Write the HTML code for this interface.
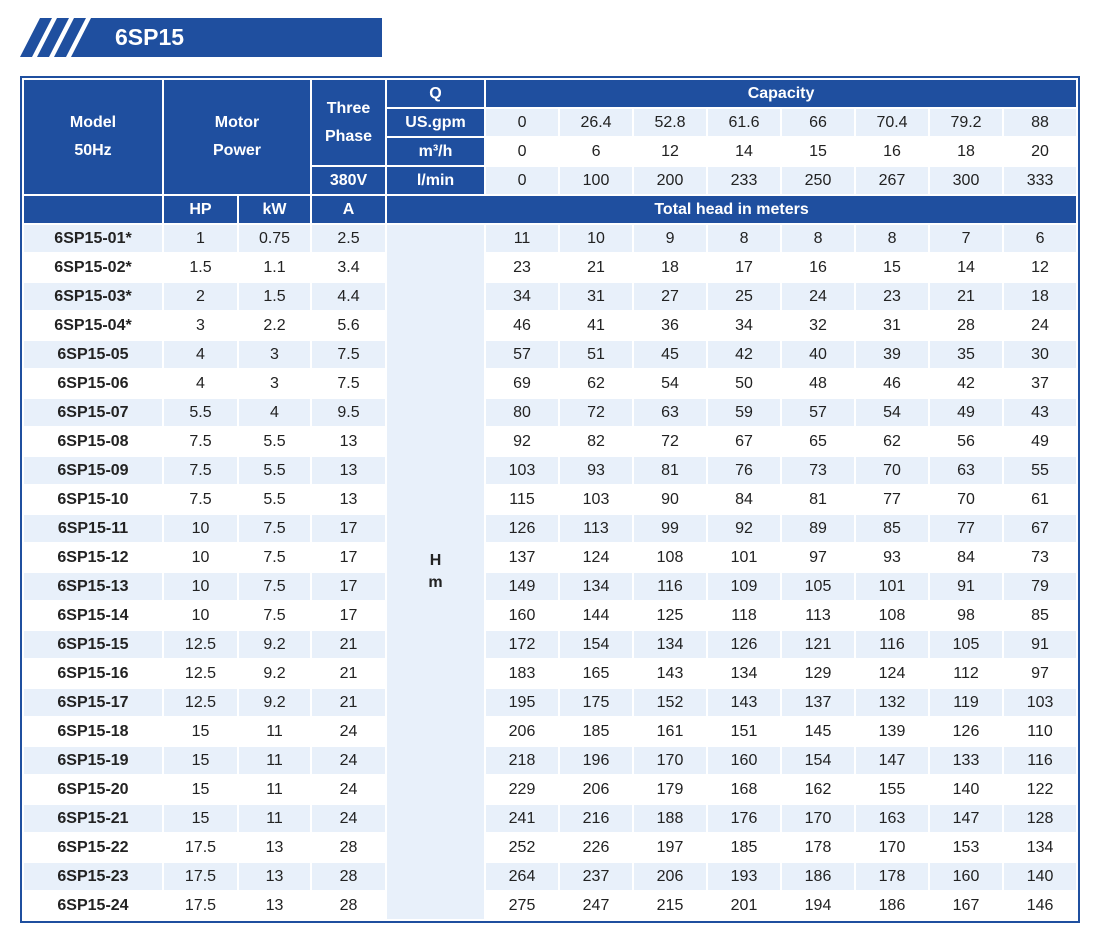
<!DOCTYPE html>
<html><head><meta charset="utf-8"><style>
body{margin:0;width:1100px;height:936px;background:#fff;position:relative;font-family:"Liberation Sans",sans-serif;}
.ban{position:absolute;left:0;top:0}
.bt{position:absolute;left:115px;top:21px;color:#fff;font-weight:bold;font-size:23px;line-height:33px}
table{position:absolute;left:20px;top:76px;width:1060px;border:2px solid #1f4f9f;border-collapse:separate;border-spacing:2px;table-layout:fixed;box-sizing:border-box;}
td{padding:0;text-align:center;font-size:16px;color:#222;height:27px;line-height:27px;white-space:nowrap;overflow:hidden}
tr.a td{background:#e8f0fa}
tr.b td{background:#fff}
table tr td.h{background:#1f4f9f;color:#fff;font-weight:bold}
td.m{font-weight:bold}
table tr td.hm{background:#e8f0fa;font-weight:bold;line-height:22px;vertical-align:middle}
tr.d td{height:27px;line-height:27px}
</style></head><body>
<svg class="ban" width="400" height="70">
<polygon points="20,57 32,57 52,18 40,18" fill="#1f4f9f"/>
<polygon points="37,57 49,57 69,18 57,18" fill="#1f4f9f"/>
<polygon points="54,57 66,57 86,18 74,18" fill="#1f4f9f"/>
<polygon points="71,57 382,57 382,18 91,18" fill="#1f4f9f"/>
</svg>
<div class="bt">6SP15</div>
<table>
<colgroup><col style="width:138px"><col style="width:73px"><col style="width:71px"><col style="width:73px"><col style="width:97px"><col span="8" style="width:72px"></colgroup>
<tr><td class="h" rowspan="4" style="line-height:28px">Model<br>50Hz</td><td class="h" rowspan="4" colspan="2" style="line-height:28px">Motor<br>Power</td><td class="h" rowspan="3" style="line-height:28px">Three<br>Phase</td><td class="h">Q</td><td class="h" colspan="8">Capacity</td></tr>
<tr class="a"><td class="h">US.gpm</td><td>0</td><td>26.4</td><td>52.8</td><td>61.6</td><td>66</td><td>70.4</td><td>79.2</td><td>88</td></tr>
<tr class="b"><td class="h">m³/h</td><td>0</td><td>6</td><td>12</td><td>14</td><td>15</td><td>16</td><td>18</td><td>20</td></tr>
<tr class="a"><td class="h">380V</td><td class="h">l/min</td><td>0</td><td>100</td><td>200</td><td>233</td><td>250</td><td>267</td><td>300</td><td>333</td></tr>
<tr><td class="h"></td><td class="h">HP</td><td class="h">kW</td><td class="h">A</td><td class="h" colspan="9">Total head in meters</td></tr>
<tr class="a d"><td class="m">6SP15-01*</td><td>1</td><td>0.75</td><td>2.5</td><td class="hm" rowspan="24">H<br>m</td><td>11</td><td>10</td><td>9</td><td>8</td><td>8</td><td>8</td><td>7</td><td>6</td></tr>
<tr class="b d"><td class="m">6SP15-02*</td><td>1.5</td><td>1.1</td><td>3.4</td><td>23</td><td>21</td><td>18</td><td>17</td><td>16</td><td>15</td><td>14</td><td>12</td></tr>
<tr class="a d"><td class="m">6SP15-03*</td><td>2</td><td>1.5</td><td>4.4</td><td>34</td><td>31</td><td>27</td><td>25</td><td>24</td><td>23</td><td>21</td><td>18</td></tr>
<tr class="b d"><td class="m">6SP15-04*</td><td>3</td><td>2.2</td><td>5.6</td><td>46</td><td>41</td><td>36</td><td>34</td><td>32</td><td>31</td><td>28</td><td>24</td></tr>
<tr class="a d"><td class="m">6SP15-05</td><td>4</td><td>3</td><td>7.5</td><td>57</td><td>51</td><td>45</td><td>42</td><td>40</td><td>39</td><td>35</td><td>30</td></tr>
<tr class="b d"><td class="m">6SP15-06</td><td>4</td><td>3</td><td>7.5</td><td>69</td><td>62</td><td>54</td><td>50</td><td>48</td><td>46</td><td>42</td><td>37</td></tr>
<tr class="a d"><td class="m">6SP15-07</td><td>5.5</td><td>4</td><td>9.5</td><td>80</td><td>72</td><td>63</td><td>59</td><td>57</td><td>54</td><td>49</td><td>43</td></tr>
<tr class="b d"><td class="m">6SP15-08</td><td>7.5</td><td>5.5</td><td>13</td><td>92</td><td>82</td><td>72</td><td>67</td><td>65</td><td>62</td><td>56</td><td>49</td></tr>
<tr class="a d"><td class="m">6SP15-09</td><td>7.5</td><td>5.5</td><td>13</td><td>103</td><td>93</td><td>81</td><td>76</td><td>73</td><td>70</td><td>63</td><td>55</td></tr>
<tr class="b d"><td class="m">6SP15-10</td><td>7.5</td><td>5.5</td><td>13</td><td>115</td><td>103</td><td>90</td><td>84</td><td>81</td><td>77</td><td>70</td><td>61</td></tr>
<tr class="a d"><td class="m">6SP15-11</td><td>10</td><td>7.5</td><td>17</td><td>126</td><td>113</td><td>99</td><td>92</td><td>89</td><td>85</td><td>77</td><td>67</td></tr>
<tr class="b d"><td class="m">6SP15-12</td><td>10</td><td>7.5</td><td>17</td><td>137</td><td>124</td><td>108</td><td>101</td><td>97</td><td>93</td><td>84</td><td>73</td></tr>
<tr class="a d"><td class="m">6SP15-13</td><td>10</td><td>7.5</td><td>17</td><td>149</td><td>134</td><td>116</td><td>109</td><td>105</td><td>101</td><td>91</td><td>79</td></tr>
<tr class="b d"><td class="m">6SP15-14</td><td>10</td><td>7.5</td><td>17</td><td>160</td><td>144</td><td>125</td><td>118</td><td>113</td><td>108</td><td>98</td><td>85</td></tr>
<tr class="a d"><td class="m">6SP15-15</td><td>12.5</td><td>9.2</td><td>21</td><td>172</td><td>154</td><td>134</td><td>126</td><td>121</td><td>116</td><td>105</td><td>91</td></tr>
<tr class="b d"><td class="m">6SP15-16</td><td>12.5</td><td>9.2</td><td>21</td><td>183</td><td>165</td><td>143</td><td>134</td><td>129</td><td>124</td><td>112</td><td>97</td></tr>
<tr class="a d"><td class="m">6SP15-17</td><td>12.5</td><td>9.2</td><td>21</td><td>195</td><td>175</td><td>152</td><td>143</td><td>137</td><td>132</td><td>119</td><td>103</td></tr>
<tr class="b d"><td class="m">6SP15-18</td><td>15</td><td>11</td><td>24</td><td>206</td><td>185</td><td>161</td><td>151</td><td>145</td><td>139</td><td>126</td><td>110</td></tr>
<tr class="a d"><td class="m">6SP15-19</td><td>15</td><td>11</td><td>24</td><td>218</td><td>196</td><td>170</td><td>160</td><td>154</td><td>147</td><td>133</td><td>116</td></tr>
<tr class="b d"><td class="m">6SP15-20</td><td>15</td><td>11</td><td>24</td><td>229</td><td>206</td><td>179</td><td>168</td><td>162</td><td>155</td><td>140</td><td>122</td></tr>
<tr class="a d"><td class="m">6SP15-21</td><td>15</td><td>11</td><td>24</td><td>241</td><td>216</td><td>188</td><td>176</td><td>170</td><td>163</td><td>147</td><td>128</td></tr>
<tr class="b d"><td class="m">6SP15-22</td><td>17.5</td><td>13</td><td>28</td><td>252</td><td>226</td><td>197</td><td>185</td><td>178</td><td>170</td><td>153</td><td>134</td></tr>
<tr class="a d"><td class="m">6SP15-23</td><td>17.5</td><td>13</td><td>28</td><td>264</td><td>237</td><td>206</td><td>193</td><td>186</td><td>178</td><td>160</td><td>140</td></tr>
<tr class="b d"><td class="m">6SP15-24</td><td>17.5</td><td>13</td><td>28</td><td>275</td><td>247</td><td>215</td><td>201</td><td>194</td><td>186</td><td>167</td><td>146</td></tr>
</table>
</body></html>
